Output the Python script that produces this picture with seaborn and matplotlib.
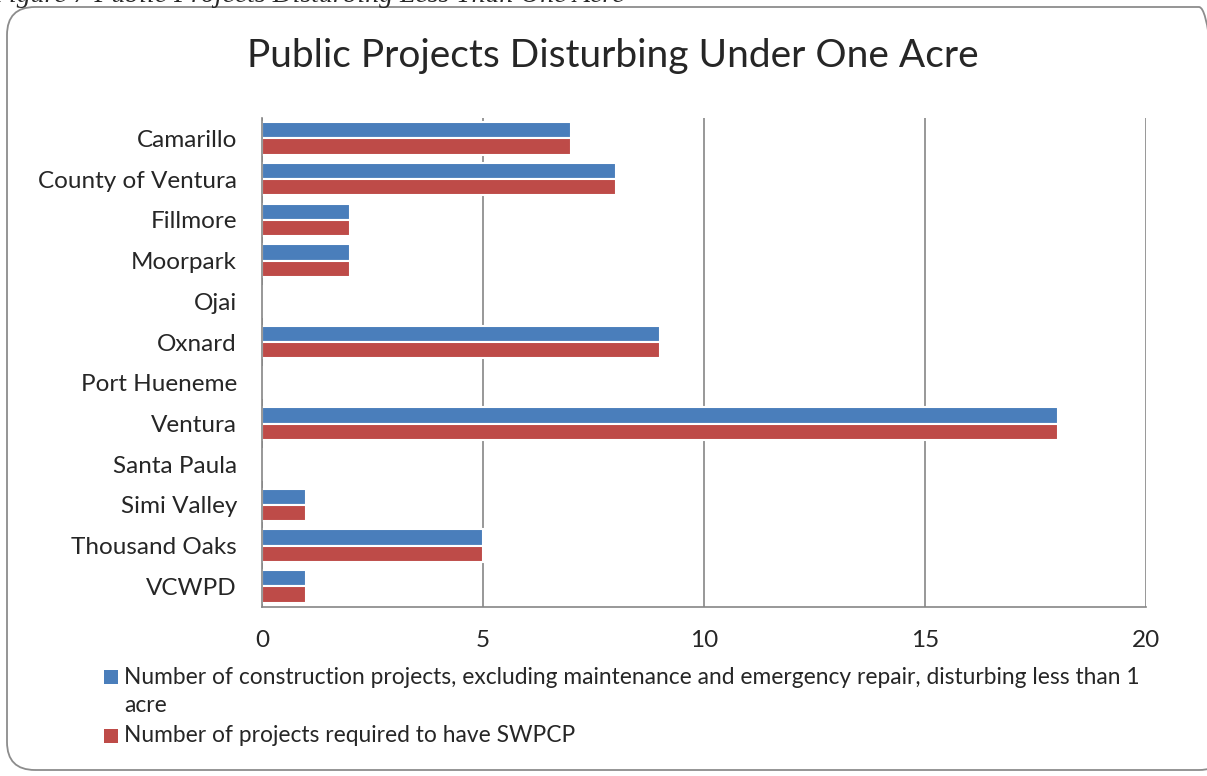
import pandas as pd
import seaborn as sns
import matplotlib.pyplot as plt
from matplotlib.patches import FancyBboxPatch, Rectangle
from matplotlib.ticker import MultipleLocator

# Data
agencies = ["Camarillo", "County of Ventura", "Fillmore", "Moorpark", "Ojai", "Oxnard",
            "Port Hueneme", "Ventura", "Santa Paula", "Simi Valley", "Thousand Oaks", "VCWPD"]
construction = [7, 8, 2, 2, 0, 9, 0, 18, 0, 1, 5, 1]
swpcp = [7, 8, 2, 2, 0, 9, 0, 18, 0, 1, 5, 1]

series1 = "Number of construction projects, excluding maintenance and emergency repair, disturbing less than 1 acre"
series2 = "Number of projects required to have SWPCP"

df = pd.DataFrame({"Agency": agencies * 2,
                   "Count": construction + swpcp,
                   "Series": [series1] * len(agencies) + [series2] * len(agencies)})

blue = "#4A7EBB"
red = "#BE4B48"
grid_gray = "#868686"

sns.set_style("white")
plt.rcParams["font.family"] = ["Lato", "DejaVu Sans"]

fig = plt.figure(figsize=(12.07, 7.76), dpi=100)
ax = fig.add_axes([0.217, 0.218, 0.7325, 0.630])

sns.barplot(data=df, y="Agency", x="Count", hue="Series", orient="h",
            palette=[blue, red], width=0.8, ax=ax, legend=False,
            edgecolor="white", linewidth=1.5, saturation=1)

ax.set_xlim(0, 20)
ax.set_ylim(11.5, -0.5)
ax.xaxis.set_major_locator(MultipleLocator(5))
ax.grid(axis="x", color=grid_gray, linewidth=1.2)
ax.set_axisbelow(True)
ax.set_xlabel("")
ax.set_ylabel("")
for s in ["top", "right"]:
    ax.spines[s].set_visible(False)
for s in ["left", "bottom"]:
    ax.spines[s].set_color(grid_gray)
    ax.spines[s].set_linewidth(1.2)

ax.set_yticks([i - 0.5 for i in range(13)], minor=True)
ax.tick_params(axis="y", which="major", length=0, labelsize=17.5, pad=18)
ax.tick_params(axis="y", which="minor", length=8, color=grid_gray, width=1.2, direction="out")
ax.tick_params(axis="x", length=0, labelsize=17.5, pad=17)

fig.text(0.508, 0.928, "Public Projects Disturbing Under One Acre", ha="center", va="center", fontsize=28)

# Legend drawn by hand so the swatch sits on the first line
W, H = 1207, 776
leg_fs = 16.4
for (y, c) in [(677, blue), (736, red)]:
    fig.patches.append(Rectangle((104 / W, 1 - (y + 7) / H), 14 / W, 14 / H,
                                 transform=fig.transFigure, facecolor=c, edgecolor="none"))
fig.text(124 / W, 1 - 677 / H, "Number of construction projects, excluding maintenance and emergency repair, disturbing less than 1",
         ha="left", va="center", fontsize=leg_fs)
fig.text(124 / W, 1 - 706 / H, "acre", ha="left", va="center", fontsize=leg_fs)
fig.text(124 / W, 1 - 736 / H, series2, ha="left", va="center", fontsize=leg_fs)

# Rounded chart border (in inches so the corners stay round) and the cut-off caption above it
fig.patches.append(FancyBboxPatch((0.07, 0.06), 12.2, 7.63,
                                  boxstyle="round,pad=0,rounding_size=0.28",
                                  transform=fig.dpi_scale_trans, facecolor="none",
                                  edgecolor="#8c8c8c", linewidth=1.3))
fig.text(-8 / W, 1 - 2 / H, "Figure 7 Public Projects Disturbing Less Than One Acre",
         ha="left", va="baseline", fontsize=20, style="italic", family="Liberation Serif")

fig.savefig("out.png", dpi=100)
